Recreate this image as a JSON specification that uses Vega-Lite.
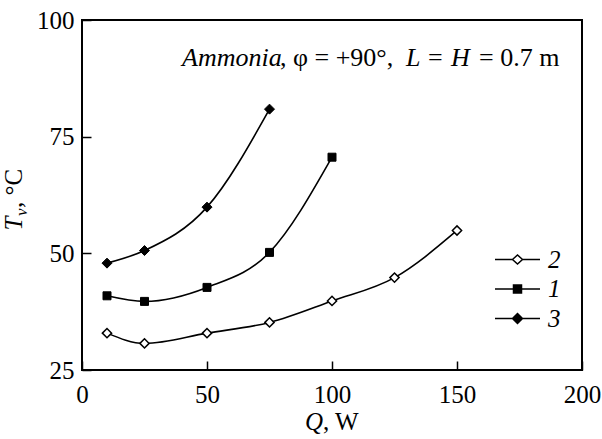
{
  "$schema": "https://vega.github.io/schema/vega-lite/v6.json",
  "width": 500,
  "height": 350,
  "autosize": {"type": "none"},
  "padding": {"left": 82, "top": 20, "right": 20, "bottom": 69},
  "background": "white",
  "config": {
    "font": "Liberation Serif",
    "view": {"stroke": "black", "strokeWidth": 2},
    "text": {"font": "Liberation Serif", "fontWeight": "normal"},
    "axis": {
      "domain": false,
      "grid": false,
      "ticks": true,
      "tickColor": "black",
      "tickWidth": 1.5,
      "tickSize": 9,
      "offset": -9,
      "labelFont": "Liberation Serif",
      "labelFontSize": 25,
      "labelColor": "black",
      "labelFlush": false,
      "labelOverlap": false,
      "titleFont": "Liberation Serif",
      "titleFontSize": 25,
      "titleFontWeight": "normal",
      "titleColor": "black"
    },
    "legend": {
      "orient": "none",
      "legendX": 423,
      "legendY": 227,
      "symbolSize": 400,
      "labelOffset": 18,
      "labelFont": "Liberation Serif",
      "labelFontSize": 25,
      "labelFontStyle": "italic",
      "labelColor": "black",
      "rowPadding": 3.5,
      "padding": 0
    }
  },
  "datasets": {
    "curves": [
      {"series": "2", "Q": 10, "T": 32.9},
      {"series": "2", "Q": 25, "T": 30.7},
      {"series": "2", "Q": 50, "T": 32.9},
      {"series": "2", "Q": 75, "T": 35.2},
      {"series": "2", "Q": 100, "T": 39.8},
      {"series": "2", "Q": 125, "T": 44.8},
      {"series": "2", "Q": 150, "T": 54.9},
      {"series": "1", "Q": 10, "T": 40.9},
      {"series": "1", "Q": 25, "T": 39.7},
      {"series": "1", "Q": 50, "T": 42.7},
      {"series": "1", "Q": 75, "T": 50.2},
      {"series": "1", "Q": 100, "T": 70.6},
      {"series": "3", "Q": 10, "T": 47.9},
      {"series": "3", "Q": 25, "T": 50.6},
      {"series": "3", "Q": 50, "T": 59.9},
      {"series": "3", "Q": 75, "T": 80.9}
    ],
    "one": [{"n": 1}]
  },
  "data": {"name": "curves"},
  "layer": [
    {
      "mark": {"type": "line", "interpolate": "monotone", "stroke": "black", "strokeWidth": 1.6},
      "encoding": {
        "x": {
          "field": "Q", "type": "quantitative",
          "scale": {"domain": [0, 200], "nice": false, "zero": false},
          "axis": {"values": [0, 50, 100, 150, 200], "title": null, "labelPadding": 12}
        },
        "y": {
          "field": "T", "type": "quantitative",
          "scale": {"domain": [25, 100], "nice": false, "zero": false},
          "axis": {"values": [25, 50, 75, 100], "title": null, "labelPadding": 8}
        },
        "detail": {"field": "series"}
      }
    },
    {
      "transform": [{"filter": "datum.series === '2'"}],
      "mark": {"type": "point", "shape": "diamond", "filled": true, "fill": "white", "stroke": "black", "strokeWidth": 1.5, "size": 85, "opacity": 1},
      "encoding": {"x": {"field": "Q", "type": "quantitative"}, "y": {"field": "T", "type": "quantitative"}}
    },
    {
      "transform": [{"filter": "datum.series === '1'"}],
      "mark": {"type": "point", "shape": "square", "filled": true, "fill": "black", "stroke": "black", "strokeWidth": 1, "size": 64, "opacity": 1},
      "encoding": {"x": {"field": "Q", "type": "quantitative"}, "y": {"field": "T", "type": "quantitative"}}
    },
    {
      "transform": [{"filter": "datum.series === '3'"}],
      "mark": {"type": "point", "shape": "diamond", "filled": true, "fill": "black", "stroke": "black", "strokeWidth": 1, "size": 100, "opacity": 1},
      "encoding": {"x": {"field": "Q", "type": "quantitative"}, "y": {"field": "T", "type": "quantitative"}}
    },
    {
      "transform": [{"filter": "datum.Q > 1000"}],
      "mark": {"type": "point", "filled": true, "stroke": "black", "strokeWidth": 1.5, "opacity": 1},
      "encoding": {
        "x": {"field": "Q", "type": "quantitative"},
        "y": {"field": "T", "type": "quantitative"},
        "shape": {
          "field": "series", "type": "nominal",
          "scale": {
            "domain": ["2", "1", "3"],
            "range": [
              "M-2.25,0H-0.5M-0.5,0L0,-0.45L0.5,0L0,0.45ZM0.5,0H2.25",
              "M-2.25,0H-0.4M-0.4,-0.4H0.4V0.4H-0.4ZM0.4,0H2.25",
              "M-2.25,0H-0.5M-0.5,0L0,-0.5L0.5,0L0,0.5ZM0.5,0H2.25"
            ]
          },
          "legend": {"title": null, "encode": {"symbols": {"update": {"stroke": {"value": "black"}, "strokeWidth": {"value": 1.5}, "opacity": {"value": 1}}}}}
        },
        "fill": {
          "field": "series", "type": "nominal",
          "scale": {"domain": ["2", "1", "3"], "range": ["white", "black", "black"]},
          "legend": {"title": null, "encode": {"symbols": {"update": {"stroke": {"value": "black"}, "strokeWidth": {"value": 1.5}, "opacity": {"value": 1}}}}}
        }
      }
    },
    {
      "data": {"name": "one"},
      "mark": {"type": "text", "font": "Liberation Serif", "fontSize": 26, "fontStyle": "italic", "fontWeight": "normal", "align": "left", "baseline": "alphabetic", "fill": "black"},
      "encoding": {"x": {"datum": 40.0}, "y": {"datum": 90.1}, "text": {"value": "Ammonia"}}
    },
    {
      "data": {"name": "one"},
      "mark": {"type": "text", "font": "Liberation Serif", "fontSize": 26, "fontWeight": "normal", "align": "left", "baseline": "alphabetic", "fill": "black"},
      "encoding": {"x": {"datum": 79.2}, "y": {"datum": 90.1}, "text": {"value": ", φ = +90°,"}}
    },
    {
      "data": {"name": "one"},
      "mark": {"type": "text", "font": "Liberation Serif", "fontSize": 26, "fontStyle": "italic", "fontWeight": "normal", "align": "left", "baseline": "alphabetic", "fill": "black"},
      "encoding": {"x": {"datum": 129.6}, "y": {"datum": 90.1}, "text": {"value": "L"}}
    },
    {
      "data": {"name": "one"},
      "mark": {"type": "text", "font": "Liberation Serif", "fontSize": 26, "fontWeight": "normal", "align": "left", "baseline": "alphabetic", "fill": "black"},
      "encoding": {"x": {"datum": 138.4}, "y": {"datum": 90.1}, "text": {"value": "="}}
    },
    {
      "data": {"name": "one"},
      "mark": {"type": "text", "font": "Liberation Serif", "fontSize": 26, "fontStyle": "italic", "fontWeight": "normal", "align": "left", "baseline": "alphabetic", "fill": "black"},
      "encoding": {"x": {"datum": 147.6}, "y": {"datum": 90.1}, "text": {"value": "H"}}
    },
    {
      "data": {"name": "one"},
      "mark": {"type": "text", "font": "Liberation Serif", "fontSize": 26, "fontWeight": "normal", "align": "left", "baseline": "alphabetic", "fill": "black"},
      "encoding": {"x": {"datum": 158.8}, "y": {"datum": 90.1}, "text": {"value": "= 0.7 m"}}
    },
    {
      "data": {"name": "one"},
      "mark": {"type": "text", "font": "Liberation Serif", "fontSize": 25, "fontStyle": "italic", "fontWeight": "normal", "align": "left", "baseline": "alphabetic", "fill": "black"},
      "encoding": {"x": {"datum": 89.2}, "y": {"datum": 12.14}, "text": {"value": "Q"}}
    },
    {
      "data": {"name": "one"},
      "mark": {"type": "text", "font": "Liberation Serif", "fontSize": 25, "fontWeight": "normal", "align": "left", "baseline": "alphabetic", "fill": "black"},
      "encoding": {"x": {"datum": 96.4}, "y": {"datum": 12.14}, "text": {"value": ", W"}}
    },
    {
      "data": {"name": "one"},
      "mark": {"type": "text", "font": "Liberation Serif", "fontSize": 25, "fontStyle": "italic", "fontWeight": "normal", "align": "left", "baseline": "alphabetic", "angle": 270, "fill": "black"},
      "encoding": {"x": {"datum": -24}, "y": {"datum": 54.9}, "text": {"value": "T"}}
    },
    {
      "data": {"name": "one"},
      "mark": {"type": "text", "font": "Liberation Serif", "fontSize": 17, "fontStyle": "italic", "fontWeight": "normal", "align": "left", "baseline": "alphabetic", "angle": 270, "fill": "black"},
      "encoding": {"x": {"datum": -22}, "y": {"datum": 58.0}, "text": {"value": "v"}}
    },
    {
      "data": {"name": "one"},
      "mark": {"type": "text", "font": "Liberation Serif", "fontSize": 25, "fontWeight": "normal", "align": "left", "baseline": "alphabetic", "angle": 270, "fill": "black"},
      "encoding": {"x": {"datum": -24}, "y": {"datum": 59.7}, "text": {"value": ", °C"}}
    }
  ]
}
